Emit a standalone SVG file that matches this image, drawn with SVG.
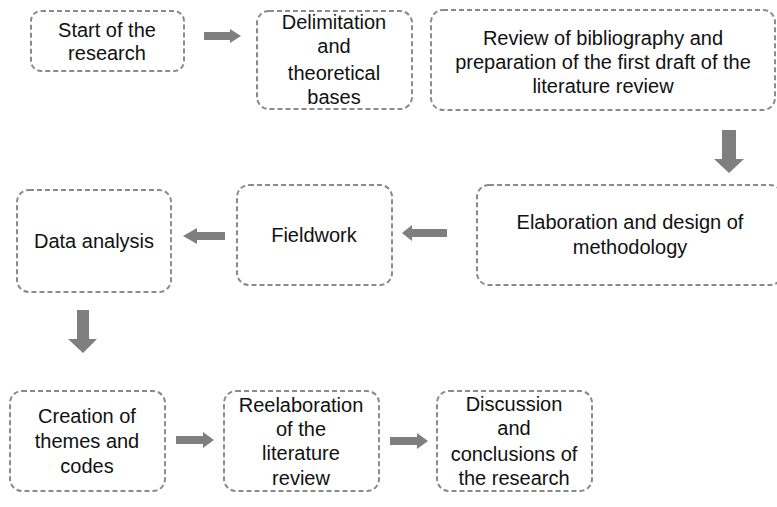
<svg xmlns="http://www.w3.org/2000/svg" width="777" height="507" viewBox="0 0 777 507">
<style>
.box{fill:#fff;stroke:#8a8a8a;stroke-width:2;stroke-dasharray:5 3}
.t{font-family:"Liberation Sans",Arial,sans-serif;font-size:20px;fill:#111;text-anchor:middle}
.arr{fill:#7f7f7f}
</style>
<rect width="777" height="507" fill="#fff"/>
<g id="connectors">
<polygon class="arr" points="204,32 230,32 230,29 241,36 230,43 230,40 204,40"/>
<polygon class="arr" points="722,130 736,130 736,159 744,159 729,173 714,159 722,159"/>
<polygon class="arr" points="447,229 447,237 412,237 412,241 402,233 412,225 412,229"/>
<polygon class="arr" points="225,232 225,240 197,240 197,244 183,236 197,228 197,232"/>
<polygon class="arr" points="77,310 89,310 89,339 97,339 83,353 68,339 77,339"/>
<polygon class="arr" points="176,436 203,436 203,432 214,440 203,448 203,444 176,444"/>
<polygon class="arr" points="390,437 417,437 417,433 428,441 417,449 417,445 390,445"/>
</g>
<g id="n1"><rect class="box" x="31" y="11" width="153" height="60" rx="10"/>
<text class="t" x="107" y="37">Start of the</text><text class="t" x="107" y="60">research</text></g>
<g id="n2"><rect class="box" x="257" y="11" width="155" height="98" rx="12"/>
<text class="t" x="334" y="29">Delimitation</text><text class="t" x="334" y="53">and</text><text class="t" x="334" y="80">theoretical</text><text class="t" x="334" y="104">bases</text></g>
<g id="n3"><rect class="box" x="431" y="10" width="344" height="100" rx="12"/>
<text class="t" x="603" y="45">Review of bibliography and</text><text class="t" x="603" y="69">preparation of the first draft of the</text><text class="t" x="603" y="93">literature review</text></g>
<g id="n4"><rect class="box" x="477" y="185" width="305" height="100" rx="12"/>
<text class="t" x="630" y="229">Elaboration and design of</text><text class="t" x="630" y="254">methodology</text></g>
<g id="n5"><rect class="box" x="237" y="185" width="155" height="100" rx="12"/>
<text class="t" x="314" y="242">Fieldwork</text></g>
<g id="n6"><rect class="box" x="17" y="190" width="154" height="102" rx="12"/>
<text class="t" x="94" y="248">Data analysis</text></g>
<g id="n7"><rect class="box" x="10" y="391" width="155" height="100" rx="12"/>
<text class="t" x="87" y="423">Creation of</text><text class="t" x="87" y="448">themes and</text><text class="t" x="87" y="473">codes</text></g>
<g id="n8"><rect class="box" x="224" y="391" width="155" height="100" rx="12"/>
<text class="t" x="301" y="412">Reelaboration</text><text class="t" x="301" y="436">of the</text><text class="t" x="301" y="460">literature</text><text class="t" x="301" y="485">review</text></g>
<g id="n9"><rect class="box" x="437" y="391" width="155" height="100" rx="12"/>
<text class="t" x="514" y="411">Discussion</text><text class="t" x="514" y="435">and</text><text class="t" x="514" y="461">conclusions of</text><text class="t" x="514" y="485">the research</text></g>
</svg>
